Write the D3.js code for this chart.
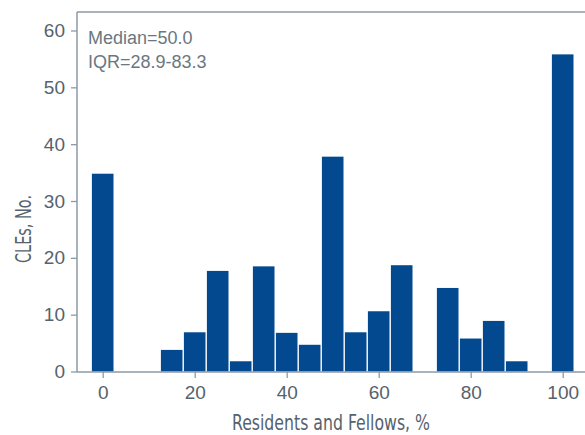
<!DOCTYPE html>
<html><head><meta charset="utf-8">
<script src="https://d3js.org/d3.v7.min.js"></script>
<style>body{margin:0;background:#fff;} svg{display:block;}</style>
</head><body>
<svg id="c" width="585" height="435"></svg>
<script>
const binCenters = [0,5,10,15,20,25,30,35,40,45,50,55,60,65,70,75,80,85,90,95,100];
const counts     = [34.8,0,0,3.8,6.9,17.7,1.8,18.5,6.8,4.7,37.8,6.9,10.6,18.7,0,14.7,5.8,8.9,1.8,0,55.8];
const xTicks = [0,20,40,60,80,100];
const yTicks = [0,10,20,30,40,50,60];
const annotations = ["Median=50.0","IQR=28.9-83.3"];
const xTitle = "Residents and Fellows, %";
const yTitle = "CLEs, No.";

const svg = d3.select("#c");
const mLeft = 77, mTop = 12, mBottom = 372, mRight = 585;
const x = d3.scaleLinear().domain([0,100]).range([102.7,562.7]);
const y = d3.scaleLinear().domain([0,60]).range([371.5,30.5]);
const binW = 5;
const axisColor = "#8d9aa4";
const textColor = "#56626c";

// bars
svg.append("g").selectAll("rect").data(binCenters.map((c,i)=>({c,v:counts[i]})).filter(d=>d.v>0))
  .join("rect")
  .attr("x", d=>x(d.c-binW/2)+0.7)
  .attr("width", d=>x(d.c+binW/2)-x(d.c-binW/2)-1.4)
  .attr("y", d=>y(d.v))
  .attr("height", d=>y(0)-y(d.v))
  .attr("fill","#02498f");

// frame: top line
svg.append("line").attr("x1",mLeft).attr("x2",mRight).attr("y1",mTop).attr("y2",mTop)
  .attr("stroke",axisColor).attr("stroke-width",1.5);

// y axis
const ya = svg.append("g").attr("transform",`translate(${mLeft},0)`)
  .call(d3.axisLeft(y).tickValues(yTicks).tickSize(6).tickPadding(6));
ya.select(".domain").attr("d",`M0,${mTop}V${mBottom}`).attr("stroke",axisColor).attr("stroke-width",1.5);
ya.selectAll(".tick line").attr("stroke",axisColor).attr("stroke-width",1.3);
ya.selectAll(".tick text").attr("fill",textColor).attr("font-family","Liberation Sans, Arial, sans-serif").attr("font-size",19);

// x axis
const xa = svg.append("g").attr("transform",`translate(0,${mBottom})`)
  .call(d3.axisBottom(x).tickValues(xTicks).tickSize(6).tickPadding(8));
xa.select(".domain").attr("d",`M${mLeft},0H${mRight}`).attr("stroke",axisColor).attr("stroke-width",1.5);
xa.selectAll(".tick line").attr("stroke",axisColor).attr("stroke-width",1.3);
xa.selectAll(".tick text").attr("fill",textColor).attr("font-family","Liberation Sans, Arial, sans-serif").attr("font-size",19);

// titles
svg.append("text").attr("x",331).attr("y",430).attr("text-anchor","middle")
  .attr("fill",textColor).attr("font-family","Liberation Sans Narrow, DejaVu Sans Condensed, Arial, sans-serif")
  .attr("font-size",22).attr("textLength",198).attr("lengthAdjust","spacingAndGlyphs").text(xTitle);
svg.append("text").attr("transform","translate(31,229) rotate(-90)").attr("text-anchor","middle")
  .attr("fill",textColor).attr("font-family","Liberation Sans Narrow, DejaVu Sans Condensed, Arial, sans-serif")
  .attr("font-size",22).attr("textLength",68).attr("lengthAdjust","spacingAndGlyphs").text(yTitle);

// annotation
svg.append("g").selectAll("text").data(annotations).join("text")
  .attr("x",88).attr("y",(d,i)=>44+i*24)
  .attr("fill","#6b7780").attr("font-family","Liberation Sans, Arial, sans-serif").attr("font-size",18)
  .text(d=>d);
</script>
</body></html>
